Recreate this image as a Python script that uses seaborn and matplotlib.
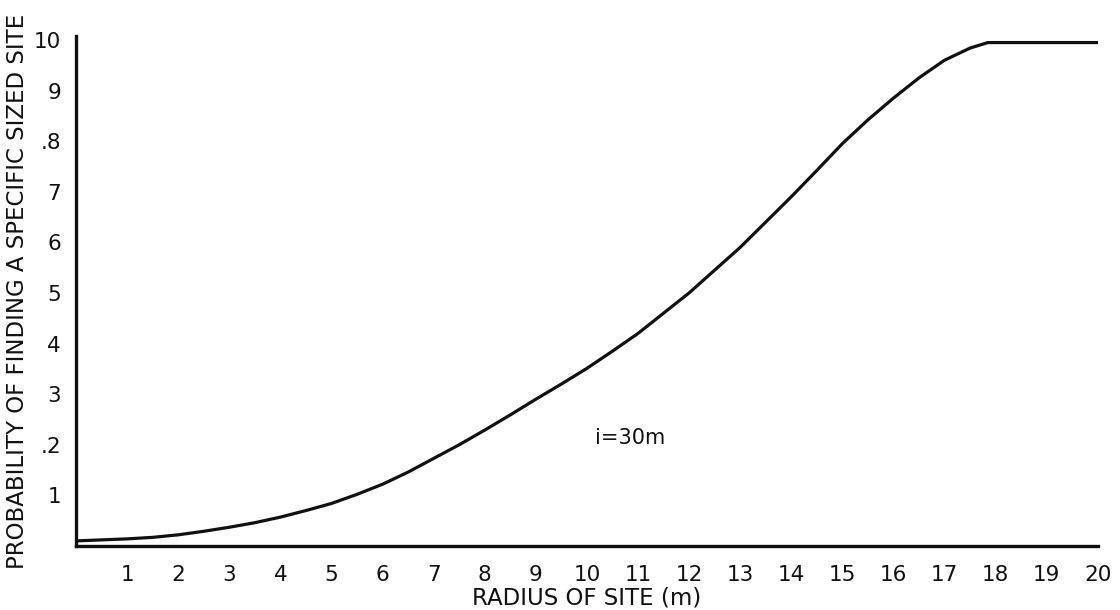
import matplotlib
matplotlib.use("Agg")
import matplotlib.pyplot as plt
import seaborn as sns
import pandas as pd

# Data
radius = [0, 0.5, 1, 1.5, 2, 2.5, 3, 3.5, 4, 4.5, 5, 5.5, 6, 6.5, 7, 7.5, 8, 8.5,
          9, 9.5, 10, 10.5, 11, 11.5, 12, 12.5, 13, 13.5, 14, 14.5, 15, 15.5,
          16, 16.5, 17, 17.5, 17.85, 18, 19, 20]
probability = [0.010, 0.012, 0.014, 0.017, 0.022, 0.029, 0.037, 0.046, 0.057, 0.070,
               0.084, 0.102, 0.122, 0.146, 0.173, 0.200, 0.229, 0.259, 0.290, 0.320,
               0.351, 0.385, 0.420, 0.460, 0.500, 0.545, 0.590, 0.640, 0.690, 0.742,
               0.795, 0.842, 0.885, 0.925, 0.960, 0.984, 0.995, 0.995, 0.995, 0.995]
x_ticks = list(range(1, 21))
x_tick_labels = [str(v) for v in x_ticks]
y_ticks = [0.1, 0.2, 0.3, 0.4, 0.5, 0.6, 0.7, 0.8, 0.9, 1.0]
y_tick_labels = ["1", ".2", "3", "4", "5", "6", "7", ".8", "9", "10"]

sns.set_theme(style="white")
plt.rcParams['font.family'] = ['DejaVu Sans']

df = pd.DataFrame({"radius": radius, "probability": probability})

fig = plt.figure(figsize=(11.2, 6.1), dpi=100)
ax = fig.add_axes([0.068, 0.105, 0.912, 0.836])
sns.lineplot(data=df, x="radius", y="probability", ax=ax, color="#111111", linewidth=2.3)

ax.set_xlim(0, 20)
ax.set_ylim(0, 1.008)
ax.set_xticks(x_ticks)
ax.set_xticklabels(x_tick_labels, fontsize=15.5)
ax.set_yticks(y_ticks)
ax.set_yticklabels(y_tick_labels, fontsize=15.5)
ax.tick_params(axis="x", direction="in", length=6, width=1.3, color="#111111",
               labelcolor="#111111", pad=14)
ax.tick_params(axis="y", direction="in", length=6, width=1.3, color="#111111",
               labelcolor="#111111", pad=11)
for side in ["top", "right"]:
    ax.spines[side].set_visible(False)
for side in ["left", "bottom"]:
    ax.spines[side].set_color("#111111")
    ax.spines[side].set_linewidth(2.4)

ax.set_xlabel("RADIUS OF SITE (m)", fontsize=16.5, color="#111111", labelpad=1)
ax.set_ylabel("PROBABILITY OF FINDING A SPECIFIC SIZED SITE", fontsize=16.5,
              color="#111111")
ax.yaxis.set_label_coords(-0.046, 0.5)
ax.text(10.15, 0.214, "i=30m", fontsize=15, color="#111111", va="center", ha="left")

fig.savefig("out.png", dpi=100, facecolor="white")
